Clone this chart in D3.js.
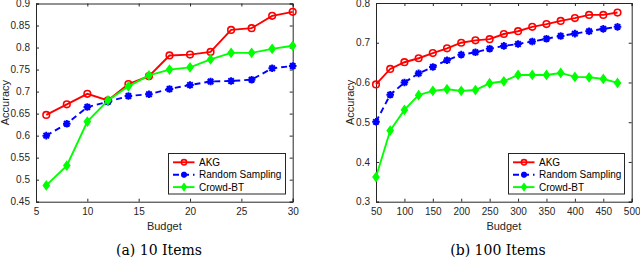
<!DOCTYPE html>
<html><head><meta charset="utf-8">
<script src="https://cdn.jsdelivr.net/npm/d3@7"></script>
<style>body{margin:0;background:#fff}svg{display:block}</style>
</head><body>
<svg id="c" width="640" height="260"></svg>
<script>
// Panel (a) 10 Items
const budgetA = [6, 8, 10, 12, 14, 16, 18, 20, 22, 24, 26, 28, 30];
const akgA    = [0.647, 0.671, 0.695, 0.680, 0.717, 0.735, 0.782, 0.784, 0.790, 0.840, 0.844, 0.872, 0.881];
const randA   = [0.600, 0.627, 0.665, 0.677, 0.690, 0.694, 0.706, 0.715, 0.723, 0.724, 0.727, 0.753, 0.758];
const crowdA  = [0.487, 0.532, 0.632, 0.680, 0.712, 0.737, 0.750, 0.755, 0.773, 0.788, 0.788, 0.797, 0.804];
const xTicksA = [5, 10, 15, 20, 25, 30];
const yTicksA = [0.45, 0.5, 0.55, 0.6, 0.65, 0.7, 0.75, 0.8, 0.85, 0.9];

// Panel (b) 100 Items
const budgetB = [50, 75, 100, 125, 150, 175, 200, 225, 250, 275, 300, 325, 350, 375, 400, 425, 450, 475];
const akgB    = [0.595, 0.634, 0.651, 0.661, 0.674, 0.686, 0.700, 0.706, 0.709, 0.722, 0.729, 0.740, 0.747, 0.755, 0.762, 0.770, 0.770, 0.776];
const randB   = [0.501, 0.569, 0.600, 0.623, 0.639, 0.656, 0.670, 0.676, 0.685, 0.692, 0.697, 0.703, 0.710, 0.717, 0.723, 0.729, 0.735, 0.740];
const crowdB  = [0.362, 0.479, 0.531, 0.568, 0.579, 0.583, 0.579, 0.581, 0.598, 0.603, 0.619, 0.619, 0.619, 0.624, 0.614, 0.613, 0.609, 0.599];
const xTicksB = [50, 100, 150, 200, 250, 300, 350, 400, 450, 500];
const yTicksB = [0.3, 0.4, 0.5, 0.6, 0.7, 0.8];

const seriesNames = ["AKG", "Random Sampling", "Crowd-BT"];
const colors = ["#ff0000", "#0000ff", "#00ff00"];

const svg = d3.select("#c");
const axisColor = "#262626";
const tickFont = "Liberation Sans, Arial, sans-serif";

function marker(g, type, x, y, color, s) {
  s = s || 1;
  if (type === 0) {
    g.append("circle").attr("cx", x).attr("cy", y).attr("r", 3.3 * s)
      .attr("fill", "none").attr("stroke", color).attr("stroke-width", 1.6);
  } else if (type === 1) {
    const r = 3.8 * s, d = r * 0.72;
    const p = `M${x-r},${y}L${x+r},${y}M${x},${y-r}L${x},${y+r}M${x-d},${y-d}L${x+d},${y+d}M${x-d},${y+d}L${x+d},${y-d}`;
    g.append("path").attr("d", p).attr("stroke", color).attr("stroke-width", 2).attr("fill", "none");
  } else {
    const rx = 3 * s, ry = 4.2 * s;
    g.append("path").attr("d", `M${x},${y-ry}L${x+rx},${y}L${x},${y+ry}L${x-rx},${y}Z`)
      .attr("fill", color).attr("stroke", color).attr("stroke-width", 1.4);
  }
}

function panel(opt) {
  const {x0, x1, y0, y1, xdom, ydom, xTicks, yTicks, xs, ys, yFmt, legend, caption, capX, ylabX} = opt;
  const x = d3.scaleLinear().domain(xdom).range([x0, x1]);
  const y = d3.scaleLinear().domain(ydom).range([y1, y0]);
  const g = svg.append("g");
  g.append("rect").attr("x", x0).attr("y", y0).attr("width", x1 - x0).attr("height", y1 - y0)
    .attr("fill", "#fff");

  const gb = g.append("g").attr("transform", `translate(0,${y1})`)
    .call(d3.axisBottom(x).tickValues(xTicks).tickSize(-3).tickPadding(6).tickFormat(d3.format("d")));
  const gl = g.append("g").attr("transform", `translate(${x0},0)`)
    .call(d3.axisLeft(y).tickValues(yTicks).tickSize(-3).tickPadding(6).tickFormat(yFmt));
  const gt = g.append("g").attr("transform", `translate(0,${y0})`).call(d3.axisTop(x).tickValues(xTicks).tickSize(-3).tickFormat(""));
  const gr = g.append("g").attr("transform", `translate(${x1},0)`).call(d3.axisRight(y).tickValues(yTicks).tickSize(-3).tickFormat(""));
  [gb, gl, gt, gr].forEach(a => {
    a.selectAll("path.domain").attr("stroke", axisColor).attr("stroke-width", 1);
    a.selectAll("line").attr("stroke", axisColor);
    a.selectAll("text").attr("fill", axisColor).style("font-family", tickFont).style("font-size", "10px");
  });
  gb.selectAll("text").attr("dy", "0.71em");

  const lineFn = d3.line().x(d => x(d[0])).y(d => y(d[1]));
  ys.forEach((vals, i) => {
    const pts = xs.map((v, j) => [v, vals[j]]);
    g.append("path").datum(pts).attr("d", lineFn).attr("fill", "none")
      .attr("stroke", colors[i]).attr("stroke-width", 1.9)
      .attr("stroke-dasharray", i === 1 ? "6,4" : null);
    pts.forEach(p => marker(g, i, x(p[0]), y(p[1]), colors[i]));
  });

  g.append("text").attr("x", (x0 + x1) / 2).attr("y", 230).attr("text-anchor", "middle")
    .style("font-family", tickFont).style("font-size", "11px").attr("fill", axisColor).text("Budget");
  g.append("text").attr("transform", `translate(${ylabX},${(y0 + y1) / 2}) rotate(-90)`)
    .attr("text-anchor", "middle")
    .style("font-family", tickFont).style("font-size", "11px").attr("fill", axisColor).text("Accuracy");

  const L = legend;
  g.append("rect").attr("x", L.x).attr("y", 153.5).attr("width", L.w).attr("height", 40.5)
    .attr("fill", "#fff").attr("stroke", axisColor).attr("stroke-width", 1);
  seriesNames.forEach((name, i) => {
    const yy = 162.3 + i * 12.4;
    g.append("line").attr("x1", L.x + 4.5).attr("x2", L.x + 26).attr("y1", yy).attr("y2", yy)
      .attr("stroke", colors[i]).attr("stroke-width", 1.9)
      .attr("stroke-dasharray", i === 1 ? "6,4" : null);
    marker(g, i, L.x + 15.5, yy, colors[i], 0.8);
    g.append("text").attr("x", L.x + 30.5).attr("y", yy + 3.6)
      .style("font-family", tickFont).style("font-size", "10px").attr("fill", "#000").text(name);
  });

  g.append("text").attr("x", capX).attr("y", 255).attr("text-anchor", "middle")
    .style("font-family", "DejaVu Serif, serif").style("font-size", "14px").attr("fill", "#000").text(caption);
}

panel({
  x0: 36, x1: 292.7, y0: 3.5, y1: 201.7, xdom: [5, 30], ydom: [0.45, 0.9],
  xTicks: xTicksA, yTicks: yTicksA, xs: budgetA, ys: [akgA, randA, crowdA],
  yFmt: d => d3.format("")(+d.toFixed(2)),
  legend: {x: 168.5, w: 117}, caption: "(a) 10 Items", capX: 159, ylabX: 9
});
panel({
  x0: 376, x1: 631.7, y0: 3, y1: 201.7, xdom: [50, 500], ydom: [0.3, 0.8],
  xTicks: xTicksB, yTicks: yTicksB, xs: budgetB, ys: [akgB, randB, crowdB],
  yFmt: d => d3.format("")(+d.toFixed(1)),
  legend: {x: 508.5, w: 116}, caption: "(b) 100 Items", capX: 498, ylabX: 354
});
</script>
</body></html>
